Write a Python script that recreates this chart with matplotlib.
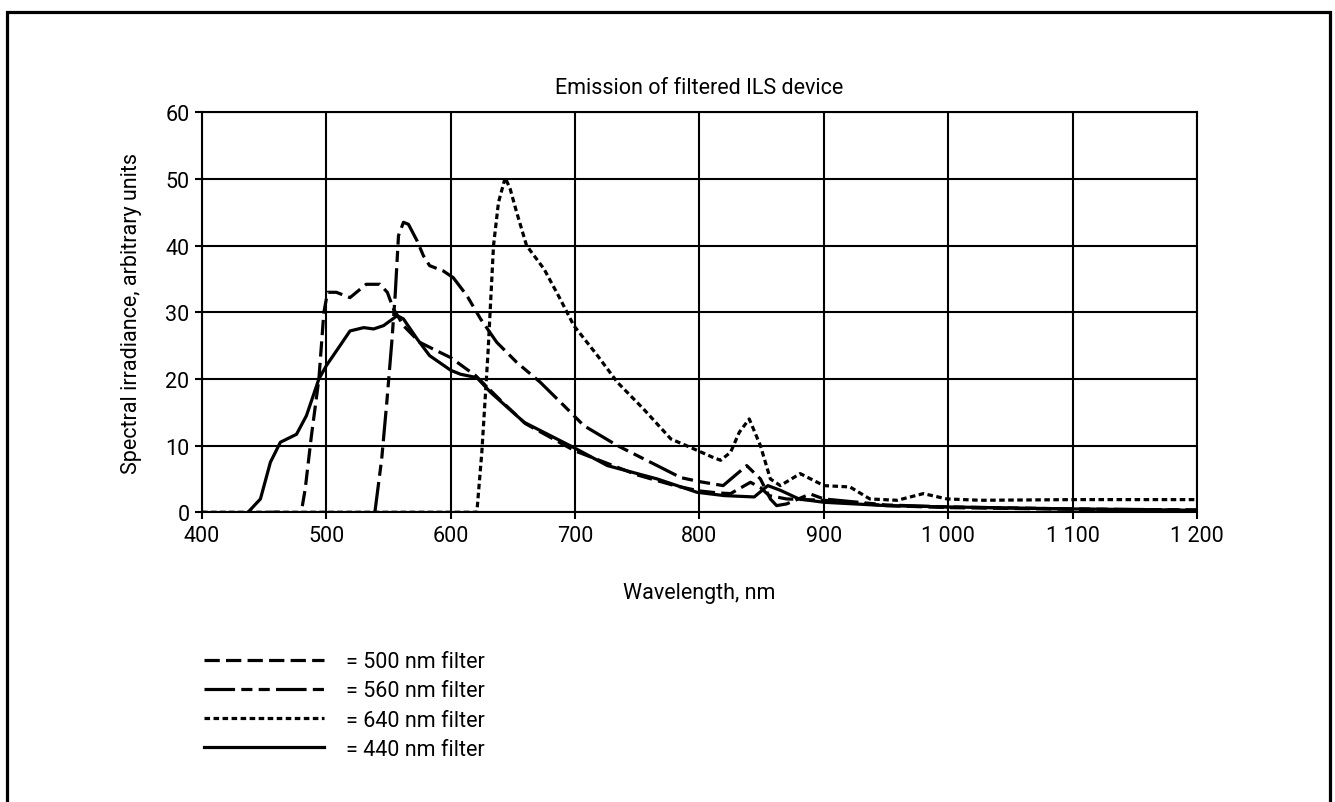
import matplotlib
matplotlib.use("Agg")
import matplotlib.pyplot as plt
from matplotlib.patches import Rectangle

plt.rcParams['font.family'] = ['Roboto', 'DejaVu Sans']
plt.rcParams['lines.scale_dashes'] = False

# 440 nm filter (solid)
wl_440 = [400, 415, 428, 437, 447, 455, 463, 476, 484, 494, 500, 511, 519, 530, 538, 546, 557, 562,
          573, 583, 600, 608, 621, 632, 659, 699, 726, 766, 798, 820, 844, 855, 865, 880, 900, 950,
          1000, 1100, 1200]
val_440 = [0, -0.2, -0.7, 0, 2, 7.5, 10.5, 11.7, 14.5, 20, 22, 25, 27.2, 27.7, 27.5, 28, 29.5, 29,
           26, 23.5, 21.3, 20.7, 20.2, 18, 13.5, 9.7, 7, 5, 3, 2.5, 2.3, 4, 3.3, 2, 1.5, 1,
           0.8, 0.5, 0.3]

# 500 nm filter (dashed)
wl_500 = [455, 462, 471, 479, 483, 488, 494, 498, 501, 508, 519, 532, 543, 549, 554, 562, 575, 589,
          600, 620, 640, 660, 700, 750, 780, 800, 815, 825, 841, 849, 856, 870, 900, 950, 1000,
          1100, 1200]
val_500 = [0, 0, -0.6, -0.9, 3.5, 11.5, 20, 30, 33, 33, 32.2, 34.2, 34.2, 33, 30.5, 28, 25.5, 24.2,
           23.2, 20.5, 16.8, 13.3, 9.2, 5.6, 4, 3.2, 2.9, 2.8, 4.5, 3.7, 2.5, 2, 1.8, 1, 0.7,
           0.45, 0.3]

# 560 nm filter (long dash, short dashes)
wl_560 = [539, 544.5, 548.6, 552.6, 555.3, 558, 562, 566, 573, 578, 583, 594, 602, 613, 624, 637,
          653, 672, 691, 707, 734, 766, 785, 800, 819, 838, 849, 857, 862, 870, 889, 900, 950,
          1000, 1100, 1200]
val_560 = [0, 8, 16.5, 25.5, 32.5, 41.5, 43.5, 43.2, 40.7, 38.5, 37, 36.2, 35.2, 32.5, 29, 25.5,
           22.5, 19.5, 16, 13, 10, 7, 5.2, 4.6, 4, 7, 5, 2, 1, 1.25, 2.75, 2, 1.1,
           0.8, 0.5, 0.35]

# 640 nm filter (dotted)
wl_640 = [400, 621, 625, 630, 634.4, 638.4, 643.8, 647.8, 653, 661, 675, 688, 699, 718, 734, 755,
          777, 798, 810, 817, 825, 832, 840, 849, 857, 865, 881, 900, 921, 937, 959, 980, 999,
          1026, 1100, 1200]
val_640 = [0, 0, 9, 24, 40, 46.5, 50.2, 48.5, 45, 40, 36.5, 32, 28, 23.5, 19.5, 15.5,
           11, 9.3, 8.3, 7.8, 9, 12, 14, 10, 5, 4, 5.8, 4, 3.8, 2, 1.8, 2.8, 2,
           1.8, 1.9, 1.9]

x_ticks = [400, 500, 600, 700, 800, 900, 1000, 1100, 1200]
x_labels = ['400', '500', '600', '700', '800', '900', '1 000', '1 100', '1 200']
y_ticks = [0, 10, 20, 30, 40, 50, 60]

fig = plt.figure(figsize=(13.35, 8.03), dpi=100)
ax = fig.add_axes([0.1513, 0.3608, 0.7453, 0.4981])

lw = 2.3
l500, = ax.plot(wl_500, val_500, color='black', lw=lw, linestyle=(0, (11, 4.5)))
l560, = ax.plot(wl_560, val_560, color='black', lw=lw, linestyle=(0, (22, 4.5, 8, 4.5, 8, 4.5)))
l640, = ax.plot(wl_640, val_640, color='black', lw=lw, linestyle=(0, (4, 2.5)))
l440, = ax.plot(wl_440, val_440, color='black', lw=lw, linestyle='-')

ax.set_xlim(400, 1200)
ax.set_ylim(0, 60)
ax.set_xticks(x_ticks)
ax.set_xticklabels(x_labels)
ax.set_yticks(y_ticks)
ax.grid(True, color='black', linewidth=1.5)
ax.set_axisbelow(True)
for s in ax.spines.values():
    s.set_linewidth(1.5)
ax.tick_params(direction='out', length=5, width=1.5, labelsize=15.5, pad=4)

ax.set_title("Emission of filtered ILS device", fontsize=15.5, pad=14)
ax.set_xlabel("Wavelength, nm", fontsize=15.5, labelpad=26)
ax.set_ylabel("Spectral irradiance, arbitrary units", fontsize=15.5, labelpad=17)

ax.legend([l500, l560, l640, l440],
          ['= 500 nm filter', '= 560 nm filter', '= 640 nm filter', '= 440 nm filter'],
          loc='upper left', bbox_to_anchor=(0.138, 0.212), bbox_transform=fig.transFigure,
          frameon=False, fontsize=15.5, handlelength=5.6, handletextpad=1.0, labelspacing=0.38)

fig.add_artist(Rectangle((0.0056, -0.05), 0.9903, 1.0344, transform=fig.transFigure,
                         fill=False, edgecolor='black', linewidth=2.3, clip_on=False))

fig.savefig("out.png", dpi=100)
